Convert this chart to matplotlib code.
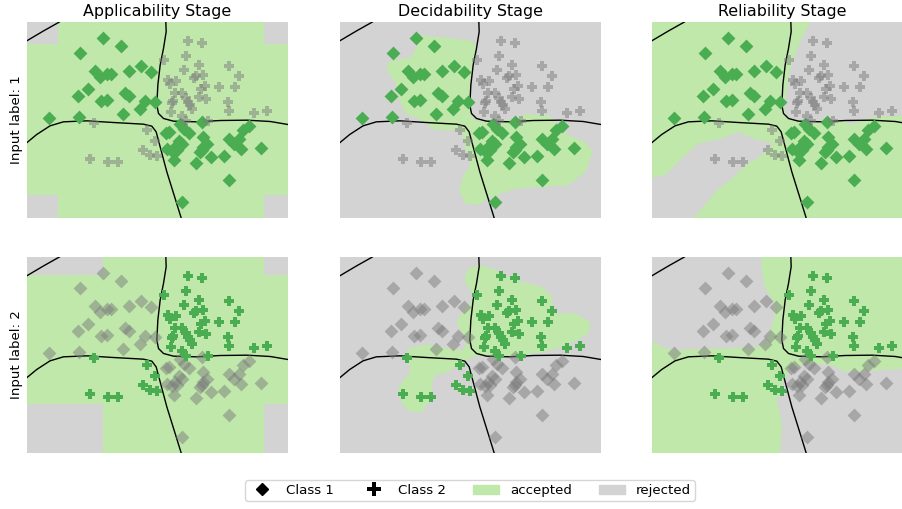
#!/usr/bin/env python3
"""Accept/reject maps for three stages and two input labels."""

import matplotlib

matplotlib.use("Agg")
import matplotlib.pyplot as plt
from matplotlib.lines import Line2D
from matplotlib.patches import Patch
from matplotlib.path import Path

ACCEPT = "#bfe8aa"
REJECT = "#d3d3d3"
GREEN = "#4bad52"
GRAY = "#7d7d7d"

STAGES = ["Applicability Stage", "Decidability Stage", "Reliability Stage"]
ROW_LABELS = ["Input label: 1", "Input label: 2"]

X_MIN, X_MAX = 21, 803
Y_MIN, Y_MAX = 21, 608

CLASS1 = [
    (249, 70), (302, 92), (179, 113), (363, 152), (326, 169), (392, 170), (225, 168), (240, 185),
    (262, 177), (272, 176), (204, 222), (174, 244), (315, 233), (327, 242), (243, 259), (262, 255),
    (375, 259), (361, 282), (405, 261), (309, 298), (178, 305), (88, 309), (478, 325), (490, 340),
    (507, 353), (545, 320), (445, 350), (438, 352), (475, 378), (485, 385), (465, 395), (440, 400),
    (455, 408), (470, 405), (461, 435), (548, 365), (560, 385), (548, 395), (540, 410), (545, 405),
    (527, 444), (571, 425), (611, 421), (627, 372), (640, 385), (655, 370), (662, 401), (668, 345),
    (685, 332), (723, 397), (627, 493), (486, 560),
]
CLASS2 = [
    (504, 77), (544, 83), (497, 122), (431, 134), (537, 149), (492, 164), (627, 152), (657, 184),
    (527, 183), (522, 190), (549, 181), (442, 195), (449, 206), (466, 198), (555, 212), (543, 222),
    (595, 217), (643, 217), (463, 233), (486, 235), (497, 250), (535, 247), (556, 252), (458, 258),
    (455, 265), (503, 262), (510, 270), (515, 282), (624, 260), (627, 288), (452, 292), (701, 295),
    (739, 288), (485, 303), (497, 316), (562, 316), (222, 323), (382, 345), (406, 378), (370, 403),
    (390, 419), (410, 422), (210, 432), (264, 441), (295, 441),
]

BOUNDARIES = [
    [(21, 77), (70, 48), (118, 21)],
    [(437, 21), (438, 50), (430, 100), (420, 150), (413, 210), (410, 270), (415, 295), (430, 310),
     (460, 318), (530, 320), (600, 316), (680, 315), (750, 319), (803, 328)],
    [(21, 382), (50, 358), (90, 332), (130, 320), (200, 317), (280, 322), (370, 327), (395, 333),
     (408, 350), (420, 395), (440, 470), (465, 550), (483, 608)],
]

# background colour and the regions painted over it, per panel
REGIONS = {
    (0, 0): (ACCEPT, REJECT, [
        [(21, 21), (113, 21), (113, 87), (21, 87)],
        [(731, 21), (803, 21), (803, 87), (731, 87)],
        [(21, 540), (113, 540), (113, 608), (21, 608)],
        [(731, 540), (803, 540), (803, 608), (731, 608)],
    ]),
    (0, 1): (REJECT, ACCEPT, [
        [(266, 62), (346, 68), (416, 78), (431, 95), (421, 135), (414, 200), (411, 270), (416, 305),
         (436, 318), (526, 315), (576, 297), (646, 300), (666, 320), (706, 360), (756, 380), (778, 410),
         (756, 470), (706, 510), (626, 515), (546, 520), (476, 545), (436, 568), (396, 565), (378, 525),
         (391, 480), (411, 450), (401, 410), (391, 375), (386, 345), (306, 345), (256, 310), (216, 295),
         (196, 250), (186, 200), (161, 165), (166, 140), (236, 125), (251, 95)],
    ]),
    (0, 2): (ACCEPT, REJECT, [
        [(495, 21), (470, 70), (445, 130), (430, 180), (425, 230), (415, 270), (425, 305), (470, 320),
         (600, 318), (620, 328), (640, 318), (690, 305), (803, 300), (803, 21)],
        [(21, 487), (60, 480), (110, 430), (160, 385), (230, 370), (280, 350), (340, 375), (385, 385),
         (350, 420), (300, 450), (260, 490), (210, 530), (170, 580), (145, 608), (21, 608)],
    ]),
    (1, 0): (ACCEPT, REJECT, [
        [(21, 21), (250, 21), (250, 75), (21, 75)],
        [(731, 21), (803, 21), (803, 75), (731, 75)],
        [(21, 461), (250, 461), (250, 608), (21, 608)],
        [(731, 461), (803, 461), (803, 608), (731, 608)],
    ]),
    (1, 1): (REJECT, ACCEPT, [
        [(436, 45), (476, 55), (496, 65), (546, 90), (626, 110), (658, 140), (656, 190), (726, 190),
         (771, 215), (766, 250), (721, 275), (656, 300), (606, 310), (516, 320), (426, 318), (391, 335),
         (346, 365), (306, 375), (296, 400), (296, 440), (266, 485), (231, 485), (206, 460), (196, 410),
         (231, 365), (226, 320), (226, 295), (286, 282), (346, 295), (391, 300), (401, 270), (376, 230),
         (371, 210), (406, 165), (426, 135), (406, 115), (393, 85), (406, 55)],
    ]),
    (1, 2): (ACCEPT, REJECT, [
        [(21, 21), (348, 21), (350, 60), (358, 110), (385, 155), (387, 205), (365, 270), (340, 290),
         (250, 295), (180, 295), (100, 300), (60, 295), (21, 275)],
        [(803, 355), (700, 360), (600, 365), (560, 345), (500, 340), (440, 352), (415, 390), (395, 450),
         (410, 520), (405, 608), (803, 608)],
    ]),
}

# plus with thicker arms than the stock "P" marker
ARM = 0.42
THICK_PLUS = Path([
    (-ARM, 1), (ARM, 1), (ARM, ARM), (1, ARM), (1, -ARM), (ARM, -ARM), (ARM, -1), (-ARM, -1),
    (-ARM, -ARM), (-1, -ARM), (-1, ARM), (-ARM, ARM), (-ARM, 1),
], closed=True)


def draw_panel(ax, row, col):
    background, painted, polygons = REGIONS[(row, col)]
    ax.set_facecolor(background)
    for polygon in polygons:
        ax.fill(*zip(*polygon), color=painted, linewidth=0, zorder=1)
    for boundary in BOUNDARIES:
        ax.plot(*zip(*boundary), color="black", linewidth=1.0, zorder=2)

    # the accepted class is the one matching the input label of the row
    for class_idx, (points, marker, size) in enumerate([(CLASS1, "D", 50), (CLASS2, THICK_PLUS, 54)]):
        xs, ys = zip(*points)
        if class_idx == row:
            ax.scatter(xs, ys, marker=marker, s=size, color=GREEN, linewidths=0, zorder=3)
        else:
            ax.scatter(xs, ys, marker=marker, s=size, color=GRAY, alpha=0.5, linewidths=0, zorder=3)

    ax.set_xlim(X_MIN, X_MAX)
    ax.set_ylim(Y_MAX, Y_MIN)
    ax.set_xticks([])
    ax.set_yticks([])
    for spine in ax.spines.values():
        spine.set_visible(False)


def main():
    fig = plt.figure(figsize=(9.02, 5.09), dpi=100)
    fig_w, fig_h = 902, 509
    lefts = [27, 340, 652]
    tops = [22, 257]
    width, height = 261, 196

    for row, top in enumerate(tops):
        for col, left in enumerate(lefts):
            ax = fig.add_axes([left / fig_w, 1 - (top + height) / fig_h, width / fig_w, height / fig_h])
            draw_panel(ax, row, col)
            if row == 0:
                ax.set_title(STAGES[col], fontsize=11.4, pad=4)
            if col == 0:
                ax.set_ylabel(ROW_LABELS[row], fontsize=9.6, labelpad=3)

    handles = [
        Line2D([], [], marker="D", color="black", linestyle="none", markersize=6.6, label="Class 1"),
        Line2D([], [], marker="P", color="black", linestyle="none", markersize=10.5, markeredgewidth=0, label="Class 2"),
        Patch(color=ACCEPT, label="accepted"),
        Patch(color=REJECT, label="rejected"),
    ]
    fig.legend(handles=handles, loc="center", bbox_to_anchor=(470 / fig_w, 1 - 490.5 / fig_h), ncol=4,
               fontsize=9.6, borderpad=0.3)
    fig.savefig("out.png", dpi=100)


if __name__ == "__main__":
    main()
